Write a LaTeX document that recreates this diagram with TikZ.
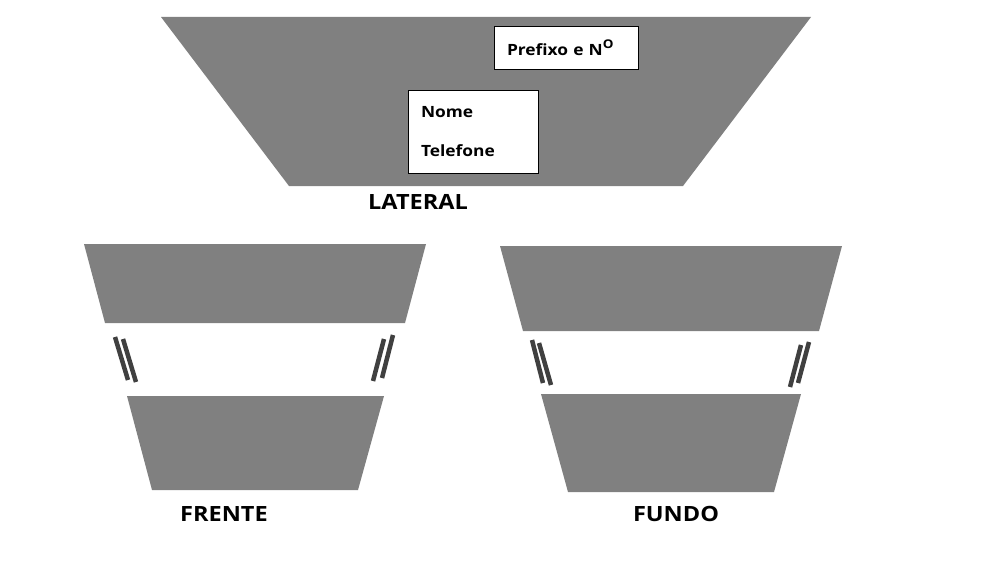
\documentclass[tikz,border=0pt]{standalone}
\usepackage{fontspec}
\setmainfont{Open Sans}[FakeStretch=1.12]
\usepackage{tikz}
\usetikzlibrary{calc}
\tikzstyle{panel}=[fill = gray!100!black!100, draw=none]
\tikzstyle{label box}=[draw = black,line width=0.8,fill=white,inner xsep=13,
                       align=left,font=\bfseries\fontsize{15.5}{18}\selectfont]
\tikzstyle{view}=[font=\bfseries\fontsize{21}{24}\selectfont,inner sep=0]
\tikzstyle{strip}=[draw = black!75,line width=4.5,line cap=butt]

\begin{document}
\begin{tikzpicture}[x=1pt,y=-1pt]
        \useasboundingbox[fill=white] (0,0) rectangle (992,586);

        % LATERAL
        \fill[panel] (161,17) -- (811,17) -- (683,186) -- (289,186) -- cycle;
        \node[label box, minimum height=43, text width=118] (prefixo) at (566,47.5)
            {Prefixo e N\raisebox{0.42em}{\fontsize{12}{12}\selectfont O}};
        \node[label box, minimum height=83, text width=104,
              font=\bfseries\fontsize{15.5}{39}\selectfont] (nome) at (473,131.5)
            {Nome\\Telefone};
        \node[view] (lateral) at (418,202) {LATERAL};

        % FRENTE
        \fill[panel] (84,244) -- (426,244) -- (405,323) -- (105,323) -- cycle;
        \fill[panel] (127,396) -- (384,396) -- (358,490) -- (152,490) -- cycle;
        \draw[strip] (115,337) -- (128,380);
        \draw[strip] (123,339) -- (136,382);
        \draw[strip] (384,339) -- (373,381);
        \draw[strip] (393,335) -- (382,378);
        \node[view] (frente) at (224,514) {FRENTE};

        % FUNDO
        \fill[panel] (500,246) -- (842,246) -- (819,331) -- (523,331) -- cycle;
        \fill[panel] (541,394) -- (801,394) -- (774,492) -- (568,492) -- cycle;
        \draw[strip] (532,340) -- (543,383);
        \draw[strip] (539,343) -- (551,385);
        \draw[strip] (801,345) -- (790,387);
        \draw[strip] (809,342) -- (798,383);
        \node[view] (fundo) at (676,514) {FUNDO};

\end{tikzpicture}
\end{document}
